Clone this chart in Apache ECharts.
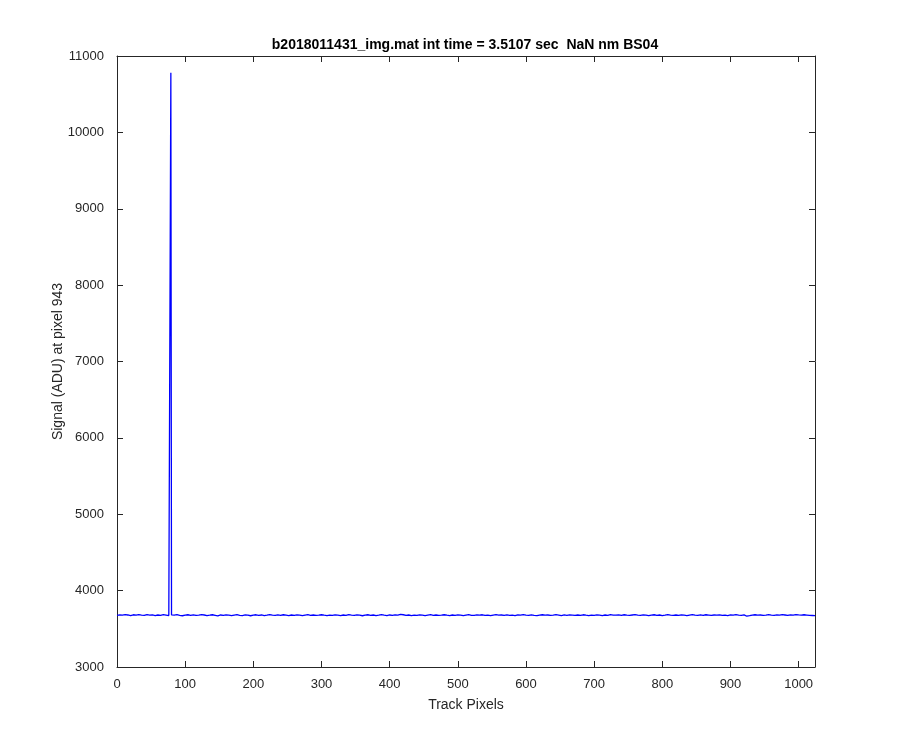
<!DOCTYPE html>
<html>
<head>
<meta charset="utf-8">
<script src="https://cdn.jsdelivr.net/npm/echarts@6/dist/echarts.min.js"></script>
<style>html,body{margin:0;padding:0;background:#fff}#c{width:900px;height:750px}</style>
</head>
<body>
<div id="c"></div>
<script>
var basePixels = [];
for (var p = 0; p <= 1024; p += 4) basePixels.push(p);
var baseSignal = [
3676,3683,3679,3686,3681,3672,3684,3678,3687,3680,3675,3685,3679,3683,3674,3681,
3677,3686,3680,3673,3682,3678,3685,3676,3671,3680,3684,3677,3682,3675,3679,3686,
3681,3674,3678,3684,3677,3670,3681,3676,3683,3679,3673,3680,3685,3677,3674,3682,
3678,3671,3680,3684,3676,3681,3673,3679,3686,3678,3675,3682,3677,3684,3679,3674,
3681,3676,3683,3678,3672,3680,3685,3677,3681,3675,3679,3684,3678,3673,3680,3676,
3683,3679,3674,3681,3677,3686,3680,3675,3682,3678,3671,3680,3684,3677,3681,3674,
3679,3685,3678,3673,3681,3676,3683,3679,3690,3684,3677,3681,3674,3680,3676,3683,
3678,3672,3680,3685,3677,3681,3675,3679,3684,3678,3674,3681,3676,3683,3679,3673,
3680,3686,3677,3675,3682,3678,3684,3676,3680,3673,3679,3685,3678,3681,3675,3683,
3677,3680,3674,3682,3678,3685,3679,3676,3683,3677,3672,3680,3684,3678,3681,3675,
3679,3686,3680,3674,3682,3677,3683,3679,3675,3681,3676,3684,3678,3673,3680,3677,
3683,3679,3674,3681,3676,3685,3680,3678,3682,3677,3684,3679,3675,3681,3686,3680,
3676,3683,3678,3672,3680,3684,3677,3681,3674,3679,3685,3678,3675,3681,3677,3683,
3679,3673,3680,3686,3678,3676,3682,3677,3684,3680,3675,3681,3678,3683,3676,3680,
3674,3682,3678,3685,3679,3676,3683,3665,3672,3680,3684,3678,3681,3675,3679,3686,
3680,3677,3683,3678,3685,3681,3676,3683,3679,3687,3682,3678,3684,3680,3676,3674,
3672
];
// Spike near pixel 79
var spikePixels = [79];
var spikeSignal = [10780];

var pts = [];
basePixels.forEach(function(p,i){ pts.push([p, baseSignal[i]]); });
spikePixels.forEach(function(p,i){ pts.push([p, spikeSignal[i]]); });
pts.sort(function(a,b){ return a[0]-b[0]; });

var xTicks = {min:0, max:1024, interval:100};
var yTicks = {min:3000, max:11000, interval:1000};
var titleText = 'b2018011431_img.mat int time = 3.5107 sec  NaN nm BS04';
var xName = 'Track Pixels';
var yName = 'Signal (ADU) at pixel 943';

var ax = '#262626';
var font = 'Liberation Sans, Arial, Helvetica, sans-serif';
var grid = {left:117, right:85, top:56, bottom:83};
var chart = echarts.init(document.getElementById('c'), null, {renderer:'canvas'});
function fmt(v){ return String(v); }
function xa(pos, show){
  return {type:'value', position:pos, min:xTicks.min, max:xTicks.max, interval:xTicks.interval,
    name: show ? xName : '', nameLocation:'middle', nameGap:31, nameMoveOverlap:false,
    nameTextStyle:{color:ax, fontSize:14, fontFamily:font},
    axisLine:{show:true, onZero:false, lineStyle:{color:ax, width:1}},
    axisTick:{show:true, inside:true, length:6, lineStyle:{color:ax}},
    axisLabel:{show:show, color:ax, fontSize:13, fontFamily:font, margin:11, showMaxLabel:false, formatter:fmt},
    splitLine:{show:false}};
}
function ya(pos, show){
  return {type:'value', position:pos, min:yTicks.min, max:yTicks.max, interval:yTicks.interval,
    name: show ? yName : '', nameLocation:'middle', nameGap:52, nameMoveOverlap:false,
    nameTextStyle:{color:ax, fontSize:14, fontFamily:font},
    axisLine:{show:true, onZero:false, lineStyle:{color:ax, width:1}},
    axisTick:{show:true, inside:true, length:6, lineStyle:{color:ax}},
    axisLabel:{show:show, color:ax, fontSize:13, fontFamily:font, margin:13, formatter:fmt},
    splitLine:{show:false}};
}
chart.setOption({
  animation:false,
  backgroundColor:'#ffffff',
  title:{text:titleText, left:460, top:33, textAlign:'center',
    textStyle:{color:'#000', fontSize:14, fontWeight:'bold', fontFamily:font}},
  grid:grid,
  xAxis:[xa('bottom', true), xa('top', false)],
  yAxis:[ya('left', true), ya('right', false)],
  series:[{type:'line', data:pts, xAxisIndex:0, yAxisIndex:0, showSymbol:false, symbol:'none',
    lineStyle:{color:'#0000ff', width:1.3}, itemStyle:{color:'#0000ff'}}]
});
</script>
</body>
</html>
